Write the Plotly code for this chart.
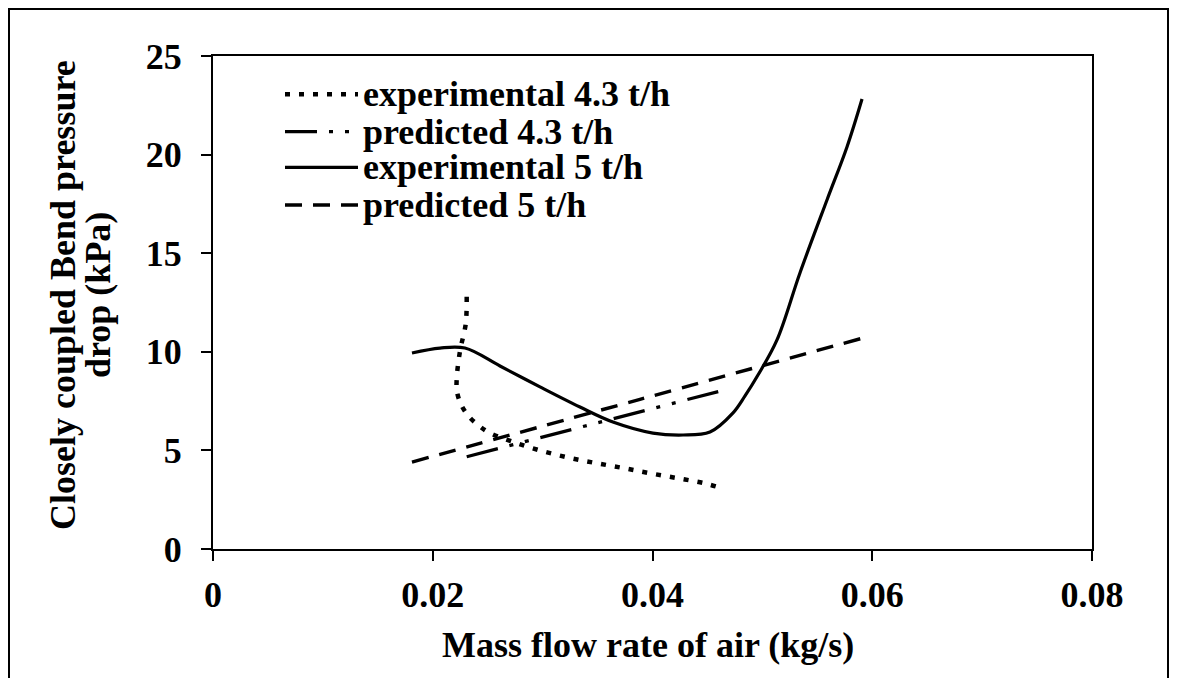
import plotly.graph_objects as go

# ---------------- data ----------------
exp43_x = [0.02309, 0.02300, 0.02248, 0.02218, 0.02221, 0.02263, 0.02330, 0.02421,
           0.02521, 0.02758, 0.02994, 0.03240, 0.03483, 0.03729, 0.03968, 0.04219,
           0.04459, 0.04584]
exp43_y = [12.79, 11.41, 10.04, 8.62, 7.96, 7.27, 6.71, 6.25,
           5.88, 5.38, 4.97, 4.63, 4.36, 4.11, 3.85, 3.60,
           3.35, 3.16]

pred43_x = [0.02309, 0.03500, 0.04687]
pred43_y = [4.68, 6.40, 8.11]

exp5_x = [0.01811, 0.02066, 0.02293, 0.02612, 0.02976, 0.03340, 0.03640, 0.04004,
          0.04278, 0.04523, 0.04733, 0.04842, 0.04960, 0.05133, 0.05342,
          0.05588, 0.05770, 0.05907]
exp5_y = [9.94, 10.19, 10.19, 9.28, 8.22, 7.20, 6.44, 5.88,
          5.78, 5.93, 6.90, 7.76, 8.82, 10.60, 14.00,
          17.70, 20.39, 22.82]

pred5_x = [0.01811, 0.03886, 0.05916]
pred5_y = [4.41, 7.59, 10.70]

x_ticks = [0, 0.02, 0.04, 0.06, 0.08]
x_tick_labels = ["0", "0.02", "0.04", "0.06", "0.08"]
y_ticks = [0, 5, 10, 15, 20, 25]
y_tick_labels = ["0", "5", "10", "15", "20", "25"]

series_names = ["experimental 4.3 t/h", "predicted 4.3 t/h",
                "experimental 5 t/h", "predicted 5 t/h"]

x_title = "Mass flow rate of air (kg/s)"
y_title_lines = ["Closely coupled Bend pressure", "drop (kPa)"]

# ---------------- layout geometry ----------------
FONT = "Liberation Serif"
FS = 36
OFF = 8                       # page body margin
W, H = 1177 - 2 * OFF, 686 - 2 * OFF
# plot area in screen pixels
SX0, SX1, SY0, SY1 = 213, 1092, 56, 549
L, T = SX0 - OFF, SY0 - OFF
R, B = W - (SX1 - OFF), H - (SY1 - OFF)
PW, PH = SX1 - SX0, SY1 - SY0


def px2paper_x(sx):
    return (sx - SX0) / PW


def px2paper_y(sy):
    return (SY1 - sy) / PH


styles = [
    dict(color="black", width=4.5, dash="5px,9px"),
    dict(color="black", width=3.2, dash="32px,12px,4px,12px,4px,12px"),
    dict(color="black", width=3.2, dash="solid"),
    dict(color="black", width=3.4, dash="17px,11px"),
]
data = [(exp43_x, exp43_y), (pred43_x, pred43_y), (exp5_x, exp5_y), (pred5_x, pred5_y)]

fig = go.Figure()
for (xs, ys), st, nm in zip(data, styles, series_names):
    fig.add_trace(go.Scatter(
        x=xs, y=ys, mode="lines", name=nm, showlegend=False,
        line=dict(color=st["color"], width=st["width"], dash=st["dash"],
                  shape="spline", smoothing=1.0),
        hoverinfo="skip"))

bold = dict(family=FONT, size=FS, color="black", weight="bold")
axis_common = dict(
    showgrid=False, zeroline=False, showline=True, linecolor="black", linewidth=2,
    mirror=True, ticks="outside", ticklen=10, tickwidth=2, tickcolor="black",
    tickfont=bold,
)

fig.update_xaxes(range=[0, 0.08], tickvals=x_ticks, ticktext=x_tick_labels,
                 ticklabelstandoff=3, **axis_common)
fig.update_yaxes(range=[0, 25], tickvals=y_ticks, ticktext=y_tick_labels,
                 ticklabelstandoff=12, **axis_common)

annotations = []
shapes = []

# axis titles
annotations.append(dict(text=x_title, xref="paper", yref="paper",
                        x=px2paper_x(648), y=px2paper_y(645),
                        xanchor="center", yanchor="middle", showarrow=False,
                        font=bold))
for cx, line in zip([63, 98], y_title_lines):
    annotations.append(dict(text=line, xref="paper", yref="paper",
                            x=px2paper_x(cx), y=px2paper_y(295), textangle=-90,
                            xanchor="center", yanchor="middle", showarrow=False,
                            font=bold))

# compact legend, as in the reference
legend_rows_sy = [94.3, 131.7, 167.3, 205.0]
for row_sy, st, nm in zip(legend_rows_sy, styles, series_names):
    shapes.append(dict(type="line", xref="paper", yref="paper",
                       x0=px2paper_x(285), x1=px2paper_x(358),
                       y0=px2paper_y(row_sy), y1=px2paper_y(row_sy),
                       line=dict(color="black", width=st["width"], dash=st["dash"])))
    annotations.append(dict(text=nm, xref="paper", yref="paper",
                            x=px2paper_x(361), y=px2paper_y(row_sy),
                            xanchor="left", yanchor="middle", showarrow=False,
                            font=bold))

# outer chart border (kept just inside the figure)
shapes.append(dict(type="rect", xref="paper", yref="paper",
                   x0=px2paper_x(OFF + 1), x1=px2paper_x(OFF + W - 1),
                   y0=px2paper_y(720), y1=px2paper_y(OFF + 1),
                   line=dict(color="black", width=2), fillcolor="rgba(0,0,0,0)"))

fig.update_layout(
    width=W, height=H,
    margin=dict(l=L, r=R, t=T, b=B, pad=0),
    paper_bgcolor="white", plot_bgcolor="white",
    font=dict(family=FONT, size=FS, color="black"),
    showlegend=False,
    annotations=annotations, shapes=shapes,
)

fig.write_html("out.html")
